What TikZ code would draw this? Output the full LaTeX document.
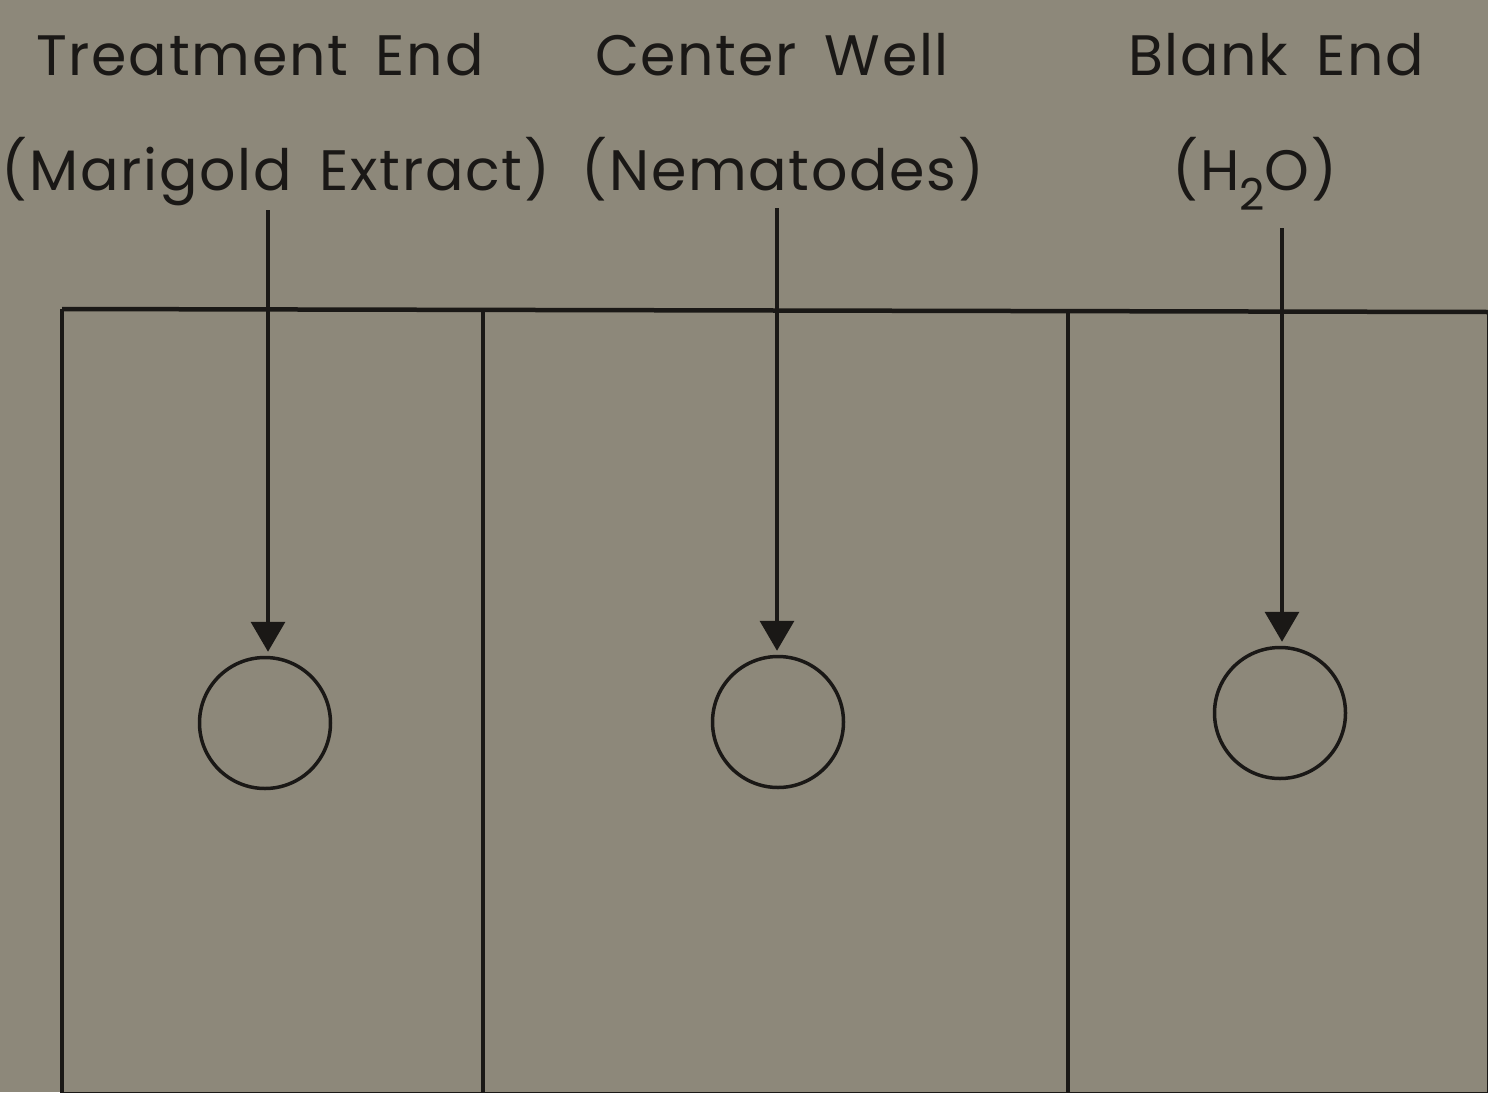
\documentclass[tikz,border=0pt]{standalone}
\usepackage{fontspec}
\setmainfont{Poppins}[LetterSpace=3]
\usetikzlibrary{arrows.meta}
\definecolor{bgc}{RGB}{141,136,122}
\definecolor{ink}{RGB}{26,24,22}
\newcommand{\wgap}{\hspace{28pt}}
\begin{document}
\begin{tikzpicture}[x=1pt,y=-1pt,
  lbl/.style={text=ink,font=\fontsize{57}{64}\selectfont,anchor=base,inner sep=0pt},
  wall/.style={draw=ink,line width=4.5pt},
  well/.style={draw=ink,line width=3.5pt,circle,minimum size=131pt,inner sep=0pt},
  feed/.style={draw=ink,line width=3.5pt,-{Triangle[length=30pt,width=34pt]},shorten >=4pt}]
\fill[bgc] (0,0) rectangle (1488,1092);
\useasboundingbox (0,0) rectangle (1488,1092);
% labels
\node[lbl] (t1) at (260,75) {Treatment\wgap End};
\node[lbl] (t2) at (772,75) {Center\wgap Well};
\node[lbl] (t3) at (1276,75) {Blank\wgap End};
\node[lbl] (s1) at (276,190) {(Marigold\wgap Extract)};
\node[lbl] (s2) at (783,190) {(Nematodes)};
\node[lbl] (s3) at (1255,190) {(H\raisebox{-20pt}{\fontsize{44}{50}\selectfont 2}O)};
% frame
\draw[wall] (62,309) -- (1488,312);
\draw[wall] (62,309) -- (62,1093);
\draw[wall] (483,310) -- (483,1093);
\draw[wall] (1068,311) -- (1068,1093);
\draw[draw=ink,line width=2.5pt] (62,1093) -- (1488,1093);
\draw[draw=ink,line width=2.5pt] (1488,312) -- (1488,1093);
% wells
\node[well] (w1) at (265,723) {};
\node[well] (w2) at (778,722) {};
\node[well] (w3) at (1280,713) {};
% arrows
\coordinate (a1) at (268,210);
\coordinate (a2) at (777,208);
\coordinate (a3) at (1282,228);
\draw[feed] (a1) -- (w1.north -| a1);
\draw[feed] (a2) -- (w2.north -| a2);
\draw[feed] (a3) -- (w3.north -| a3);
\end{tikzpicture}
\end{document}
